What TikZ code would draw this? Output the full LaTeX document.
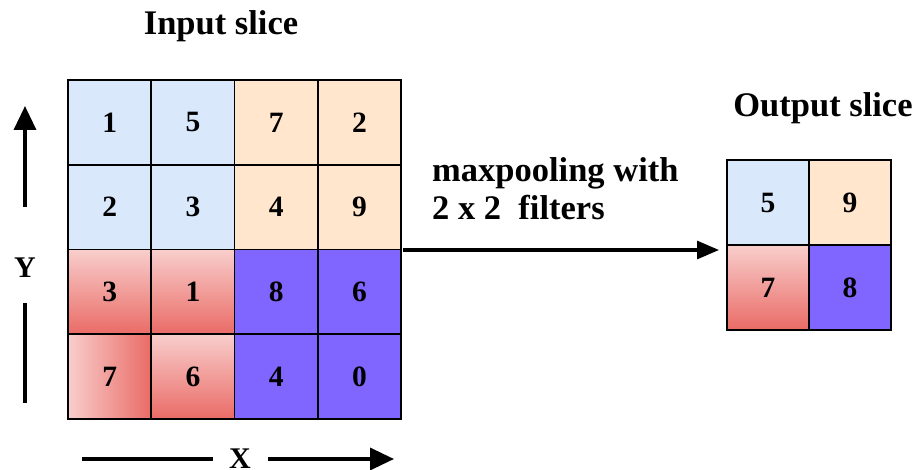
\documentclass[tikz,border=0pt]{standalone}
\usepackage{fontspec}
\setmainfont{Liberation Serif}
\usetikzlibrary{arrows.meta}
\definecolor{cblue}{HTML}{DAE8FC}
\definecolor{corange}{HTML}{FFE6CC}
\definecolor{cpurple}{HTML}{8066FF}
\definecolor{redlight}{HTML}{F8CECC}
\definecolor{reddark}{HTML}{EA6B66}
\tikzset{
  cell/.style={draw=black, line width=1.8pt, minimum width=83.25pt, minimum height=84.75pt, inner sep=0pt, font=\fontsize{29.5}{32}\selectfont\bfseries},
  ocell/.style={cell, minimum width=82pt, minimum height=85pt},
  bcell/.style={fill=cblue},
  orcell/.style={fill=corange},
  pcell/.style={fill=cpurple},
  rcellv/.style={top color=redlight, bottom color=reddark},
  rcellh/.style={left color=redlight, right color=reddark},
  title/.style={font=\fontsize{34.5}{38}\selectfont\bfseries, inner sep=0pt},
  axislbl/.style={font=\fontsize{30}{32}\selectfont\bfseries, inner sep=0pt},
  axisline/.style={line width=3.5pt},
  axisarrow/.style={line width=3.5pt, -{Triangle[length=24pt,width=22pt]}},
}
\begin{document}
\begin{tikzpicture}[x=1pt,y=-1pt]
\useasboundingbox (0,0) rectangle (920,470);
% input grid
\foreach \r/\c/\v/\s in {0/0/1/bcell,0/1/5/bcell,0/2/7/orcell,0/3/2/orcell,
                         1/0/2/bcell,1/1/3/bcell,1/2/4/orcell,1/3/9/orcell,
                         2/0/3/rcellv,2/1/1/rcellv,2/2/8/pcell,2/3/6/pcell,
                         3/0/7/rcellh,3/1/6/rcellv,3/2/4/pcell,3/3/0/pcell}{
  \node[cell,\s] (in\r\c) at ({68+83.25*(\c+0.5)},{80+84.75*(\r+0.5)}) {\v};
}
% output grid
\foreach \r/\c/\v/\s in {0/0/5/bcell,0/1/9/orcell,1/0/7/rcellv,1/1/8/pcell}{
  \node[ocell,\s] (out\r\c) at ({727+82*(\c+0.5)},{160+85*(\r+0.5)}) {\v};
}
% titles
\node[title] (intitle) at (221,26) {Input slice};
\node[title] (outtitle) at (823,108) {Output slice};
\node[title, anchor=base west, align=left] (lbl) at (432,182) {maxpooling with};
\node[title, anchor=base west, align=left] (lbl2) at (432,220) {2 x 2\ \ filters};
% main arrow
\coordinate (astart) at (403,250);
\coordinate (aend) at (719,250);
\draw[line width=3pt, -{Triangle[length=22pt,width=18pt]}] (astart) -- (aend);
% Y axis
\node[axislbl] (ylbl) at (25,268) {Y};
\coordinate (ytop) at (25,106);
\coordinate (ymid) at (25,207);
\coordinate (ylow1) at (25,303);
\coordinate (ylow2) at (25,403);
\draw[axisarrow] (ymid) -- (ytop);
\draw[axisline] (ylow1) -- (ylow2);
% X axis
\node[axislbl] (xlbl) at (240,459) {X};
\coordinate (xl1) at (82,459);
\coordinate (xl2) at (213,459);
\coordinate (xr1) at (268,459);
\coordinate (xr2) at (394,459);
\draw[axisline] (xl1) -- (xl2);
\draw[axisarrow] (xr1) -- (xr2);
\end{tikzpicture}
\end{document}
